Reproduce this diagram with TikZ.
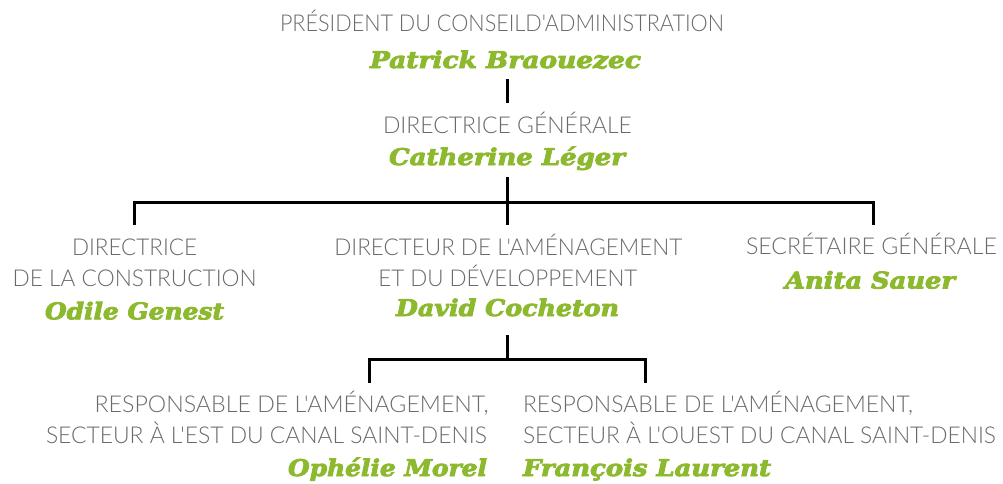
\documentclass[tikz,border=0pt]{standalone}
\usepackage{fontspec}
\usepackage{graphicx}
\newfontfamily\thinfont{Lato Light}
\newfontfamily\namefont{DejaVu Serif Bold Italic}[FakeBold=3.5]
\definecolor{namegreen}{HTML}{8DB92E}
\definecolor{txtgray}{HTML}{6A6A6A}
\newsavebox\fitbox
\newcommand\fitto[2]{\sbox\fitbox{#2}\pgfmathsetmacro\fitfac{#1/\the\wd\fitbox}\scalebox{\fitfac}[1]{\usebox\fitbox}}
\tikzset{
  role/.style={inner sep=0pt, outer sep=0pt, anchor=base west, text=txtgray,
    font=\thinfont\fontsize{23.2}{24}\selectfont},
  person/.style={inner sep=0pt, outer sep=0pt, anchor=base west, text=namegreen,
    font=\namefont\fontsize{23}{23}\selectfont},
  link/.style={draw=black, line width=3pt, line join=miter}
}
\begin{document}
\begin{tikzpicture}[x=1pt,y=-1pt]
\useasboundingbox (0,0) rectangle (1003,483);
\fill[white] (0,0) rectangle (1003,483);
% texts
\node[role] (pres-t) at (280,31.5) {\fitto{444}{PRÉSIDENT DU CONSEILD'ADMINISTRATION}};
\node[person] (pres-n) at (370,68) {\fitto{271}{Patrick Braouezec}};
\node[role] (dg-t) at (383,133.3) {\fitto{249}{DIRECTRICE GÉNÉRALE}};
\node[person] (dg-n) at (389,165) {\fitto{236}{Catherine Léger}};
\node[role] (dc-t1) at (72,255.5) {\fitto{125}{DIRECTRICE}};
\node[role] (dc-t2) at (12.7,286.5) {\fitto{244}{DE LA CONSTRUCTION}};
\node[person] (dc-n) at (45,319.3) {\fitto{179}{Odile Genest}};
\node[role] (dd-t1) at (334.3,255.5) {\fitto{348}{DIRECTEUR DE L'AMÉNAGEMENT}};
\node[role] (dd-t2) at (378.3,286) {\fitto{259}{ET DU DÉVELOPPEMENT}};
\node[person] (dd-n) at (396,316) {\fitto{223}{David Cocheton}};
\node[role] (sg-t) at (746,254.5) {\fitto{251}{SECRÉTAIRE GÉNÉRALE}};
\node[person] (sg-n) at (785,288.5) {\fitto{170}{Anita Sauer}};
\node[role] (re-t1) at (94.6,412.7) {\fitto{394}{RESPONSABLE DE L'AMÉNAGEMENT,}};
\node[role] (re-t2) at (46,443.3) {\fitto{441}{SECTEUR À L'EST DU CANAL SAINT-DENIS}};
\node[person] (re-n) at (288,476) {\fitto{199}{Ophélie Morel}};
\node[role] (ro-t1) at (523,412.7) {\fitto{390}{RESPONSABLE DE L'AMÉNAGEMENT,}};
\node[role] (ro-t2) at (523,443.3) {\fitto{473}{SECTEUR À L'OUEST DU CANAL SAINT-DENIS}};
\node[person] (ro-n) at (523,476) {\fitto{248}{François Laurent}};
% connector points
\coordinate (a1) at (507,79);
\coordinate (a2) at (507,103);
\coordinate (b1) at (507,177);
\coordinate (bm) at (507,225);
\coordinate (hl) at (134.5,202);
\coordinate (hr) at (873,202);
\coordinate (bl) at (134.5,225);
\coordinate (br) at (873,225);
\coordinate (c1) at (507,335);
\coordinate (c2) at (507,359);
\coordinate (cl) at (369,359);
\coordinate (cr) at (645,359);
\coordinate (cl2) at (369,383);
\coordinate (cr2) at (645,383);
% connectors
\draw[link] (a1) -- (a2);
\draw[link] (b1) -- (bm);
\draw[link] (bl) -- (hl) -- (hr) -- (br);
\draw[link] (c1) -- (c2);
\draw[link] (cl2) -- (cl) -- (cr) -- (cr2);
\end{tikzpicture}
\end{document}
